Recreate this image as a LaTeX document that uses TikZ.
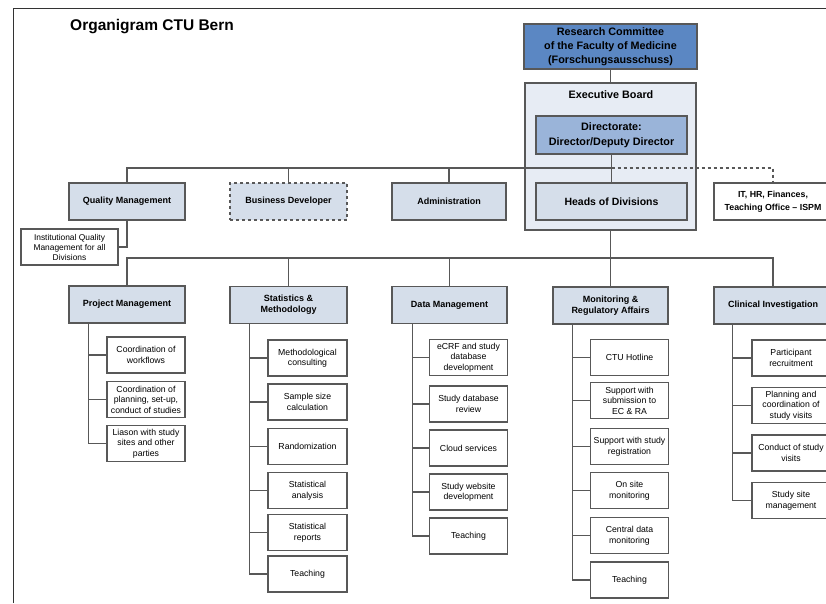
\documentclass[tikz,border=0pt]{standalone}
\usepackage{fontspec}
\setmainfont{Liberation Sans}
\begin{document}
\definecolor{rcblue}{HTML}{5B87C3}
\definecolor{dirblue}{HTML}{9AB4D9}
\definecolor{ebfill}{HTML}{E7ECF4}
\definecolor{lvlfill}{HTML}{D5DEEA}
\definecolor{edge}{HTML}{585858}
\begin{tikzpicture}[x=1pt,y=-1pt,
  box/.style={draw=edge,line width=1.5pt,align=center,inner sep=1pt},
  lvl/.style={box,fill=lvlfill,minimum height=37pt,
    font=\bfseries\fontsize{9}{11}\selectfont},
  task/.style={box,fill=white,minimum width=78pt,minimum height=36pt,
    font=\fontsize{8.7}{10.5}\selectfont},
  conn/.style={draw=edge,line width=1.5pt},
]
\useasboundingbox (0,0) rectangle (826,603);
\clip (0,0) rectangle (826,603);

% frame
\draw[black!80,line width=1pt] (13,603) -- (13,8) -- (830,8);

% title
\node[anchor=base west,inner sep=0,font=\bfseries\fontsize{15.5}{18}\selectfont]
  (title) at (70,30) {Organigram CTU Bern};

% governance
\node[box,fill=rcblue,minimum width=173pt,minimum height=45pt,
  font=\bfseries\fontsize{10.8}{14.2}\selectfont]
  (rc) at (610.5,46.5) {Research Committee\\of the Faculty of Medicine\\(Forschungsausschuss)};
\node[box,fill=ebfill,minimum width=171pt,minimum height=147pt]
  (eb) at (610.5,156.5) {};
\node[inner sep=0,font=\bfseries\fontsize{10.8}{13}\selectfont]
  (ebt) at (611,95) {Executive Board};
\node[box,fill=dirblue,minimum width=151pt,minimum height=38pt,
  font=\bfseries\fontsize{10.8}{14.5}\selectfont]
  (dir) at (611.5,135) {Directorate:\\Director/Deputy Director};

% first level
\node[lvl,minimum width=116pt] (qm) at (127,201.5) {Quality Management};
\node[lvl,minimum width=117pt,dashed] (bd) at (288.5,201.5) {Business Developer};
\node[lvl,minimum width=114pt] (adm) at (449,201.5) {Administration};
\node[lvl,minimum width=151pt,font=\bfseries\fontsize{10.5}{12}\selectfont]
  (hod) at (611.5,201.5) {Heads of Divisions};
\node[box,fill=white,minimum width=118pt,minimum height=37pt,
  font=\bfseries\fontsize{8.8}{12.5}\selectfont]
  (it) at (773,201.5) {IT, HR, Finances,\\Teaching Office – ISPM};
\node[box,fill=white,minimum width=97pt,minimum height=36pt,line width=1.1pt,
  font=\fontsize{8.4}{10}\selectfont]
  (iqm) at (69.5,247) {Institutional Quality\\Management for all\\Divisions};

% divisions
\node[lvl,minimum width=116pt] (pm) at (127,304.5) {Project Management};
\node[lvl,minimum width=117pt] (sm) at (288.5,305) {Statistics \&\\Methodology};
\node[lvl,minimum width=115pt] (dm) at (449.5,305) {Data Management};
\node[lvl,minimum width=115pt] (mra) at (610.5,305.5) {Monitoring \&\\Regulatory Affairs};
\node[lvl,minimum width=118pt] (ci) at (773,305.5) {Clinical Investigation};

% tasks: Project Management
\node[task] (pm1) at (146,355) {Coordination of\\workflows};
\node[task] (pm2) at (146,399.5) {Coordination of\\planning, set-up,\\conduct of studies};
\node[task] (pm3) at (146,443.5) {Liason with study\\sites and other\\parties};

% tasks: Statistics & Methodology
\node[task,minimum width=79pt] (sm1) at (307.5,358) {Methodological\\consulting};
\node[task,minimum width=79pt] (sm2) at (307.5,402) {Sample size\\calculation};
\node[task,minimum width=79pt] (sm3) at (307.5,446.5) {Randomization};
\node[task,minimum width=79pt] (sm4) at (307.5,490.5) {Statistical\\analysis};
\node[task,minimum width=79pt] (sm5) at (307.5,532.5) {Statistical\\reports};
\node[task,minimum width=79pt] (sm6) at (307.5,574) {Teaching};

% tasks: Data Management
\node[task] (dm1) at (468.5,357.5) {eCRF and study\\database\\development};
\node[task] (dm2) at (468.5,404) {Study database\\review};
\node[task] (dm3) at (468.5,448) {Cloud services};
\node[task] (dm4) at (468.5,492) {Study website\\development};
\node[task] (dm5) at (468.5,536) {Teaching};

% tasks: Monitoring & Regulatory Affairs
\node[task] (mra1) at (629.5,357.5) {CTU Hotline};
\node[task] (mra2) at (629.5,400.5) {Support with\\submission to\\EC \& RA};
\node[task] (mra3) at (629.5,446.5) {Support with study\\registration};
\node[task] (mra4) at (629.5,490.5) {On site\\monitoring};
\node[task] (mra5) at (629.5,535.5) {Central data\\monitoring};
\node[task] (mra6) at (629.5,580) {Teaching};

% tasks: Clinical Investigation
\node[task] (ci1) at (791,358) {Participant\\recruitment};
\node[task] (ci2) at (791,405.5) {Planning and\\coordination of\\study visits};
\node[task] (ci3) at (791,453) {Conduct of study\\visits};
\node[task] (ci4) at (791,500.5) {Study site\\management};

% bus heights
\coordinate (busA) at (0,168);
\coordinate (busB) at (0,258);

% upper connectors
\draw[conn] (rc.south) -- (rc.south |- eb.north);
\draw[conn] (dir.south) -- (hod.north);
\draw[conn] (qm.north) -- (qm.north |- busA) -- (hod.north |- busA);
\draw[conn] (bd.north) -- (bd.north |- busA);
\draw[conn] (adm.north) -- (adm.north |- busA);
\draw[conn,dashed] (hod.north |- busA) -| (it.north);
\draw[conn] (qm.south) |- (iqm.east);

% lower connectors
\draw[conn] (eb.south) -- (eb.south |- busB);
\draw[conn] (pm.north) -- (pm.north |- busB) -- (ci.north |- busB) -- (ci.north);
\draw[conn] (sm.north) -- (sm.north |- busB);
\draw[conn] (dm.north) -- (dm.north |- busB);
\draw[conn] (mra.north) -- (mra.north |- busB);

% task spines
\coordinate (pmS) at ([xshift=20pt]pm.south west);
\coordinate (smS) at ([xshift=20pt]sm.south west);
\coordinate (dmS) at ([xshift=21pt]dm.south west);
\coordinate (mraS) at ([xshift=20pt]mra.south west);
\coordinate (ciS) at ([xshift=19pt]ci.south west);

\draw[conn] (pmS) |- (pm3.west);
\foreach \k in {1,2} \draw[conn] (pmS |- pm\k.west) -- (pm\k.west);
\draw[conn] (smS) |- (sm6.west);
\foreach \k in {1,...,5} \draw[conn] (smS |- sm\k.west) -- (sm\k.west);
\draw[conn] (dmS) |- (dm5.west);
\foreach \k in {1,...,4} \draw[conn] (dmS |- dm\k.west) -- (dm\k.west);
\draw[conn] (mraS) |- (mra6.west);
\foreach \k in {1,...,5} \draw[conn] (mraS |- mra\k.west) -- (mra\k.west);
\draw[conn] (ciS) |- (ci4.west);
\foreach \k in {1,...,3} \draw[conn] (ciS |- ci\k.west) -- (ci\k.west);
\end{tikzpicture}
\end{document}
